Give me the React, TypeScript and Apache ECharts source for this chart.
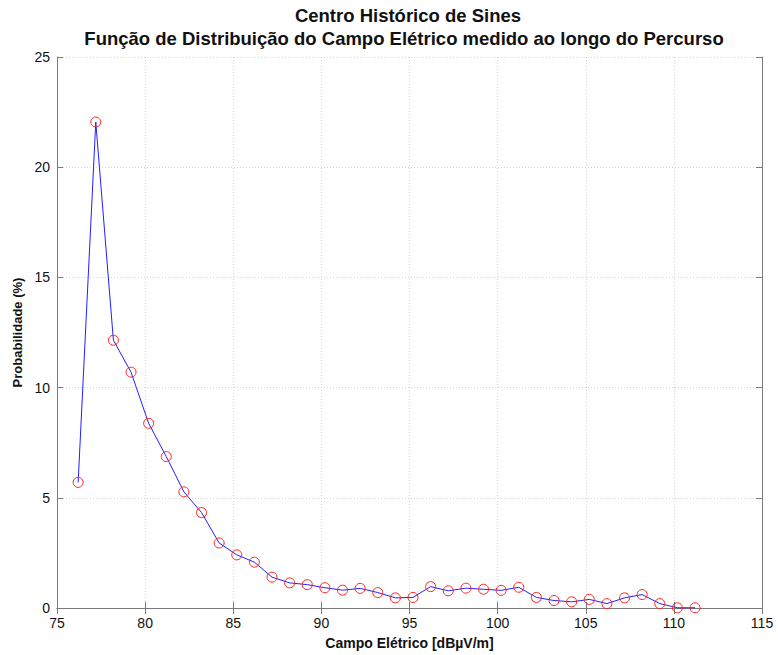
import React, { useEffect, useRef } from "react";
import * as echarts from "echarts";

const titleLines = [
  "Centro Histórico de Sines",
  "Função de Distribuição do Campo Elétrico medido ao longo do Percurso",
];
const xAxisName = "Campo Elétrico [dBµV/m]";
const yAxisName = "Probabilidade (%)";

const fieldValues = [
  76.2, 77.2, 78.2, 79.2, 80.2, 81.2, 82.2, 83.2, 84.2, 85.2, 86.2, 87.2,
  88.2, 89.2, 90.2, 91.2, 92.2, 93.2, 94.2, 95.2, 96.2, 97.2, 98.2, 99.2,
  100.2, 101.2, 102.2, 103.2, 104.2, 105.2, 106.2, 107.2, 108.2, 109.2,
  110.2, 111.2,
];
const probabilityValues = [
  5.7, 22.05, 12.15, 10.7, 8.38, 6.87, 5.27, 4.33, 2.95, 2.41, 2.08, 1.4,
  1.14, 1.06, 0.92, 0.81, 0.89, 0.7, 0.46, 0.48, 0.97, 0.78, 0.9, 0.85,
  0.8, 0.94, 0.48, 0.34, 0.28, 0.39, 0.2, 0.46, 0.61, 0.2, 0.01, 0.01,
];

const xMin = 75;
const xMax = 115;
const xStep = 5;
const yMin = 0;
const yMax = 25;
const yStep = 5;

const FONT = "'Liberation Sans', Arial, Helvetica, sans-serif";

export default function App() {
  const ref = useRef<HTMLDivElement>(null);
  useEffect(() => {
    if (!ref.current) return;
    document.body.style.margin = "0";
    const chart = echarts.init(ref.current, null, { renderer: "svg" });
    const axisColor = "#7a7a7a";
    const labelStyle = { color: "#111", fontSize: 14, fontFamily: FONT };
    const gridLine = {
      show: true,
      lineStyle: { color: "#d6d6d6", type: [1, 2] as any, width: 1 },
    };
    const tick = { show: true, inside: true, length: 6, lineStyle: { color: axisColor } };
    const data = fieldValues.map((x, i) => [x, probabilityValues[i]]);
    chart.setOption({
      animation: false,
      backgroundColor: "#fff",
      textStyle: { fontFamily: FONT },
      graphic: [
        {
          type: "text",
          x: 408,
          y: 15,
          style: {
            text: titleLines[0],
            align: "center",
            verticalAlign: "middle",
            font: `bold 18.5px ${FONT}`,
            fill: "#111",
          },
        },
        {
          type: "text",
          x: 404,
          y: 38,
          style: {
            text: titleLines[1],
            align: "center",
            verticalAlign: "middle",
            font: `bold 18.5px ${FONT}`,
            fill: "#111",
          },
        },
      ],
      grid: { left: 57, right: 16, top: 57, bottom: 43, containLabel: false },
      xAxis: [
        {
          type: "value",
          min: xMin,
          max: xMax,
          interval: xStep,
          position: "bottom",
          name: xAxisName,
          nameLocation: "middle",
          nameGap: 28,
          nameTextStyle: { fontWeight: "bold", fontSize: 14, color: "#111", fontFamily: FONT },
          axisLine: { show: true, lineStyle: { color: axisColor, width: 1 } },
          axisTick: tick,
          axisLabel: { ...labelStyle, margin: 8 },
          splitLine: gridLine,
        },
        {
          type: "value",
          min: xMin,
          max: xMax,
          interval: xStep,
          position: "top",
          axisLine: { show: true, lineStyle: { color: axisColor, width: 1 } },
          axisTick: tick,
          axisLabel: { show: false },
          splitLine: { show: false },
        },
      ],
      yAxis: [
        {
          type: "value",
          min: yMin,
          max: yMax,
          interval: yStep,
          position: "left",
          name: yAxisName,
          nameLocation: "middle",
          nameGap: 29,
          nameTextStyle: { fontWeight: "bold", fontSize: 13, color: "#111", fontFamily: FONT },
          axisLine: { show: true, lineStyle: { color: axisColor, width: 1 } },
          axisTick: tick,
          axisLabel: { ...labelStyle, margin: 7 },
          splitLine: gridLine,
        },
        {
          type: "value",
          min: yMin,
          max: yMax,
          interval: yStep,
          position: "right",
          axisLine: { show: true, lineStyle: { color: axisColor, width: 1 } },
          axisTick: tick,
          axisLabel: { show: false },
          splitLine: { show: false },
        },
      ],
      series: [
        {
          type: "line",
          xAxisIndex: 0,
          yAxisIndex: 0,
          data,
          lineStyle: { color: "#2020ff", width: 1 },
          symbol: "circle",
          symbolSize: 10,
          itemStyle: { color: "rgba(0,0,0,0)", borderColor: "#ff2020", borderWidth: 1 },
          clip: false,
        },
      ],
    });
    return () => chart.dispose();
  }, []);
  return <div ref={ref} style={{ width: 778, height: 655 }} />;
}
